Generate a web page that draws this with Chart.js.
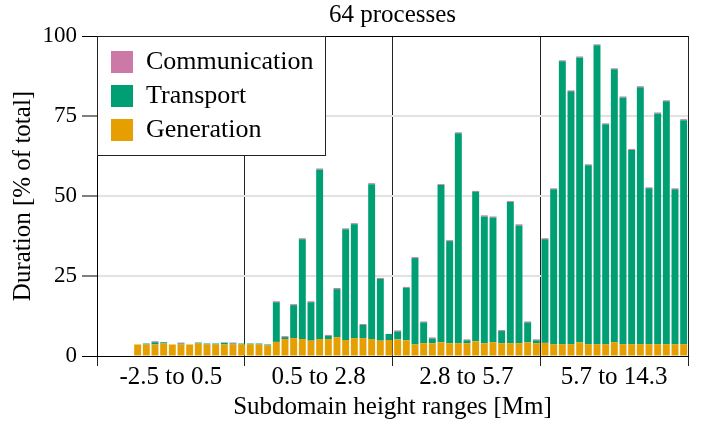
<!DOCTYPE html>
<html>
<head>
<meta charset="utf-8">
<script src="https://cdn.jsdelivr.net/npm/chart.js@4.4.0/dist/chart.umd.min.js"></script>
<style>
  html, body { margin: 0; padding: 0; background: #fff; }
</style>
</head>
<body>
<canvas id="chart" width="713" height="423"></canvas>
<script>
const groupLabels = ["-2.5 to 0.5", "0.5 to 2.8", "2.8 to 5.7", "5.7 to 14.3"];
const yTicks = [0, 25, 50, 75, 100];

// one value per process (64), in % of total duration
const generation = [
    3.6, 3.6, 3.6, 3.9, 3.6, 3.6, 3.6, 3.9, 3.6, 3.6, 3.6, 3.6, 3.6, 3.6, 3.6, 3.3,
    4.4, 5.3, 5.6, 5.3, 4.8, 5.3, 5.3, 5.9, 5.0, 5.6, 5.6, 5.3, 4.8, 5.0, 5.2, 4.9,
    3.6, 4.0, 4.0, 4.3, 4.0, 4.0, 4.0, 4.6, 4.0, 4.3, 4.0, 4.0, 4.0, 4.3, 4.0, 4.1,
    3.7, 3.7, 3.7, 4.3, 3.7, 3.7, 3.7, 4.3, 3.7, 3.7, 3.7, 3.7, 3.7, 3.7, 3.7, 3.7
];
const transport = [
    0.0, 0.3, 0.7, 0.4, 0.0, 0.3, 0.0, 0.3, 0.3, 0.3, 0.6, 0.3, 0.3, 0.3, 0.3, 0.3,
    12.4, 0.6, 10.3, 31.2, 12.0, 53.0, 1.0, 15.0, 34.6, 35.6, 4.1, 48.4, 19.3, 1.9, 2.5, 16.4,
    27.0, 6.5, 1.5, 49.1, 31.9, 65.6, 0.9, 46.7, 39.6, 39.0, 3.8, 44.1, 36.8, 6.2, 0.9, 32.4,
    48.4, 88.4, 79.0, 89.0, 55.9, 93.4, 68.7, 85.3, 77.1, 60.7, 80.3, 48.7, 72.1, 75.9, 48.4, 70.0
];
const communication = [
    0.0, 0.0, 0.3, 0.0, 0.0, 0.3, 0.0, 0.0, 0.0, 0.0, 0.0, 0.3, 0.0, 0.0, 0.0, 0.0,
    0.3, 0.3, 0.3, 0.3, 0.3, 0.3, 0.3, 0.35, 0.3, 0.3, 0.3, 0.3, 0.3, 0.0, 0.3, 0.3,
    0.3, 0.3, 0.3, 0.3, 0.3, 0.3, 0.3, 0.3, 0.35, 0.3, 0.3, 0.3, 0.35, 0.3, 0.3, 0.3,
    0.3, 0.3, 0.3, 0.3, 0.3, 0.3, 0.3, 0.3, 0.3, 0.3, 0.3, 0.3, 0.3, 0.3, 0.3, 0.3
];

const colors = {
    Generation: "#E69F00",
    Transport: "#009E73",
    Communication: "#CC79A7"
};

const FONT = "'Liberation Serif', 'DejaVu Serif', serif";

function toPoints(values) {
    return values.map((v, i) => ({ x: i, y: v }));
}

// boxed legend in the top-left corner of the plot
const legendBox = {
    id: "legendBox",
    afterDraw(chart) {
        const { ctx, chartArea } = chart;
        const x = chartArea.left;
        const y = chartArea.top;
        ctx.save();
        ctx.fillStyle = "#fff";
        ctx.fillRect(x, y, 228, 120);
        ctx.strokeStyle = "#222";
        ctx.lineWidth = 1;
        ctx.strokeRect(x + 0.5, y + 0.5, 228, 119);

        const items = chart.data.datasets.slice().reverse();
        ctx.font = "26px " + FONT;
        ctx.textBaseline = "middle";
        ctx.textAlign = "left";
        items.forEach((ds, k) => {
            const rowY = y + 15 + k * 34;
            ctx.fillStyle = ds.backgroundColor;
            ctx.fillRect(x + 14, rowY, 22, 22);
            ctx.fillStyle = "#000";
            ctx.fillText(ds.label, x + 49, rowY + 11);
        });
        ctx.restore();
    }
};

Chart.defaults.color = "#000";
Chart.defaults.font.family = FONT;

new Chart(document.getElementById("chart"), {
    type: "bar",
    data: {
        datasets: [
            { label: "Generation", data: toPoints(generation), backgroundColor: colors.Generation },
            { label: "Transport", data: toPoints(transport), backgroundColor: colors.Transport },
            { label: "Communication", data: toPoints(communication), backgroundColor: colors.Communication }
        ]
    },
    options: {
        responsive: false,
        animation: false,
        events: [],
        barPercentage: 0.8,
        categoryPercentage: 1.0,
        layout: { padding: { left: 0, right: 25, top: 0, bottom: 0 } },
        plugins: {
            legend: { display: false },
            tooltip: { enabled: false },
            title: {
                display: true,
                fullSize: false,
                text: "64 processes",
                font: { size: 25, weight: "normal" },
                padding: { top: 0, bottom: 6 }
            }
        },
        scales: {
            x: {
                type: "linear",
                display: false,
                stacked: true,
                offset: false,
                bounds: "data",
                min: -4.69,
                max: 63.5,
                afterDataLimits: s => { s.min = -4.69; s.max = 63.5; }
            },
            groups: {
                type: "category",
                position: "bottom",
                labels: groupLabels,
                offset: true,
                afterFit: s => { s.height = 67; },
                grid: {
                    offset: true,
                    color: "#222",
                    lineWidth: 1,
                    tickLength: 10,
                    tickColor: "#222"
                },
                border: { display: true, color: "#000", width: 1 },
                ticks: { font: { size: 25 }, padding: -4, maxRotation: 0 },
                title: {
                    display: true,
                    text: "Subdomain height ranges [Mm]",
                    font: { size: 25 },
                    padding: { top: 0, bottom: 1 }
                }
            },
            y: {
                stacked: true,
                min: 0,
                max: 100,
                afterFit: s => { s.width = 97; },
                afterBuildTicks: s => { s.ticks = yTicks.map(v => ({ value: v })); },
                grid: {
                    color: c => (c.tick && (c.tick.value === 0 || c.tick.value === 100)) ? "#000" : "#e2e2e2",
                    lineWidth: c => (c.tick && (c.tick.value === 0 || c.tick.value === 100)) ? 1 : 2,
                    tickColor: "#000",
                    tickWidth: 1,
                    tickLength: 15
                },
                border: { display: true, color: "#000", width: 1 },
                ticks: { font: { size: 23 }, padding: 5 },
                title: {
                    display: true,
                    text: "Duration [% of total]",
                    font: { size: 25 },
                    padding: { top: 8, bottom: 0 }
                }
            }
        }
    },
    plugins: [legendBox]
});
</script>
</body>
</html>
